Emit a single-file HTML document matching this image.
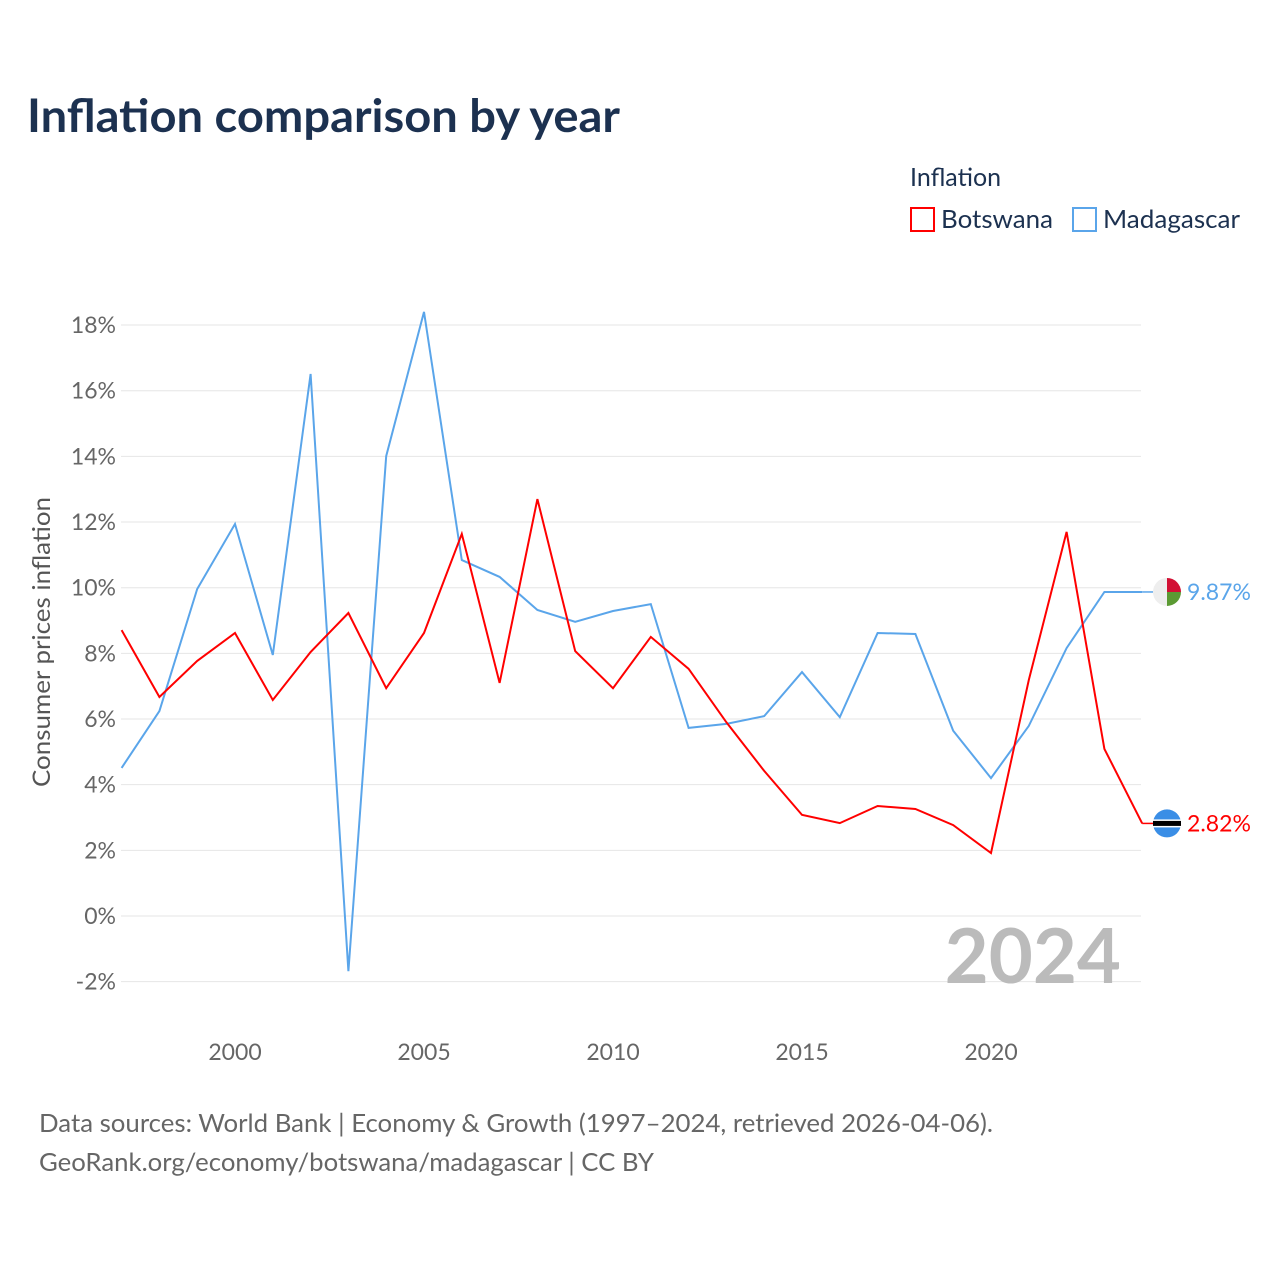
<!DOCTYPE html>
<html><head><meta charset="utf-8"><style>
body{margin:0;background:#fff;font-family:"Liberation Sans",sans-serif;}
svg text{font-family:"Lato","Liberation Sans",sans-serif;}
</style></head><body>
<svg width="1280" height="1280" viewBox="0 0 1280 1280" xmlns="http://www.w3.org/2000/svg">
<text x="27" y="132" font-size="46" font-weight="bold" fill="#1c3150" textLength="593" lengthAdjust="spacingAndGlyphs">Inflation comparison by year</text>
<text x="910" y="186" font-size="25" fill="#1c3150">Inflation</text>
<g><rect x="911" y="208" width="23" height="23" fill="none" stroke="#ff0000" stroke-width="2"/><text x="941" y="228" font-size="25" fill="#1c3150" textLength="112" lengthAdjust="spacingAndGlyphs">Botswana</text></g>
<g><rect x="1073" y="208" width="23" height="23" fill="none" stroke="#5aa5ea" stroke-width="2"/><text x="1103" y="228" font-size="25" fill="#1c3150" textLength="137" lengthAdjust="spacingAndGlyphs">Madagascar</text></g>
<g id="grid"></g>
<g id="yticks"></g>
<g id="xticks"></g>
<text x="0" y="0" transform="translate(50,642) rotate(-90)" text-anchor="middle" font-size="24" fill="#555" textLength="290" lengthAdjust="spacingAndGlyphs">Consumer prices inflation</text>
<text x="1121" y="983" text-anchor="end" font-size="76" font-weight="bold" fill="#bbb">2024</text>
<g id="series"></g>
<text x="39" y="1132" font-size="25" fill="#666" textLength="954" lengthAdjust="spacingAndGlyphs">Data sources: World Bank | Economy &amp; Growth (1997–2024, retrieved 2026-04-06).</text>
<text x="39" y="1171" font-size="25" fill="#666" textLength="615" lengthAdjust="spacingAndGlyphs">GeoRank.org/economy/botswana/madagascar | CC BY</text>
</svg>
<script>
const years=[1997,1998,1999,2000,2001,2002,2003,2004,2005,2006,2007,2008,2009,2010,2011,2012,2013,2014,2015,2016,2017,2018,2019,2020,2021,2022,2023,2024];
const botswana=[8.71,6.67,7.77,8.62,6.58,8.04,9.23,6.94,8.62,11.64,7.10,12.70,8.07,6.94,8.50,7.53,5.9,4.42,3.08,2.83,3.35,3.26,2.77,1.92,7.19,11.70,5.09,2.82];
const madagascar=[4.51,6.24,9.96,11.94,7.95,16.51,-1.68,14.01,18.40,10.84,10.33,9.32,8.96,9.29,9.50,5.73,5.85,6.09,7.43,6.06,8.62,8.59,5.64,4.20,5.79,8.16,9.87,9.87];
const yTicks=[-2,0,2,4,6,8,10,12,14,16,18];
const xTicks=[2000,2005,2010,2015,2020];
const NS="http://www.w3.org/2000/svg";
const x=v=>121.6+(v-1997)*37.8;
const y=v=>916-v*32.83;
function mk(t,a,p){const e=document.createElementNS(NS,t);for(const k in a)e.setAttribute(k,a[k]);p.appendChild(e);return e;}
const grid=document.getElementById('grid'),yt=document.getElementById('yticks'),xt=document.getElementById('xticks'),ser=document.getElementById('series');
yTicks.forEach(v=>{
 const l=mk('line',{x1:121,x2:1141,y1:y(v),y2:y(v),stroke:'#e6e6e6','stroke-width':1},grid);
 
 
 const t=mk('text',{x:116,y:y(v)+8,'text-anchor':'end','font-size':23,fill:'#666'},yt);
 t.textContent=v+'%';
 
 
});
xTicks.forEach(v=>{
 const t=mk('text',{x:x(v),y:1060,'text-anchor':'middle','font-size':23,fill:'#666'},xt);
 t.textContent=v;
 
 
});
function line(vals,col,name){
 const d=vals.map((v,i)=>(i?'L':'M')+x(years[i]).toFixed(1)+','+y(v).toFixed(1)).join('');
 const p=mk('path',{d:d,fill:'none',stroke:col,'stroke-width':2},ser);
 
 
 const last=vals[vals.length-1],ly=y(last);
 const lead=mk('line',{x1:x(years[years.length-1]),x2:1153,y1:ly,y2:ly,stroke:col,'stroke-width':1.5},ser);
 
 
 const t=mk('text',{x:1187,y:ly+8,'font-size':23,fill:col},ser);
 t.textContent=last.toFixed(2)+'%';
 
 
 return ly;
}
const my=line(madagascar,'#5aa5ea','madagascar');
const by=line(botswana,'#ff0000','botswana');
const fm=mk('g',{},ser);


const cx=1167;
mk('path',{d:`M${cx},${my-14}A14,14 0 0 0 ${cx},${my+14}Z`,fill:'#eee'},fm);
mk('path',{d:`M${cx},${my-14}A14,14 0 0 1 ${cx+14},${my}L${cx},${my}Z`,fill:'#d21034'},fm);
mk('path',{d:`M${cx},${my}L${cx+14},${my}A14,14 0 0 1 ${cx},${my+14}Z`,fill:'#5b9a33'},fm);
const fb=mk('g',{},ser);


mk('circle',{cx:cx,cy:by,r:14,fill:'#3a8ee6'},fb);
mk('rect',{x:cx-14,y:by-4,width:28,height:8,fill:'#fff'},fb);
mk('rect',{x:cx-14,y:by-2.5,width:28,height:5,fill:'#000'},fb);
</script>
</body></html>
